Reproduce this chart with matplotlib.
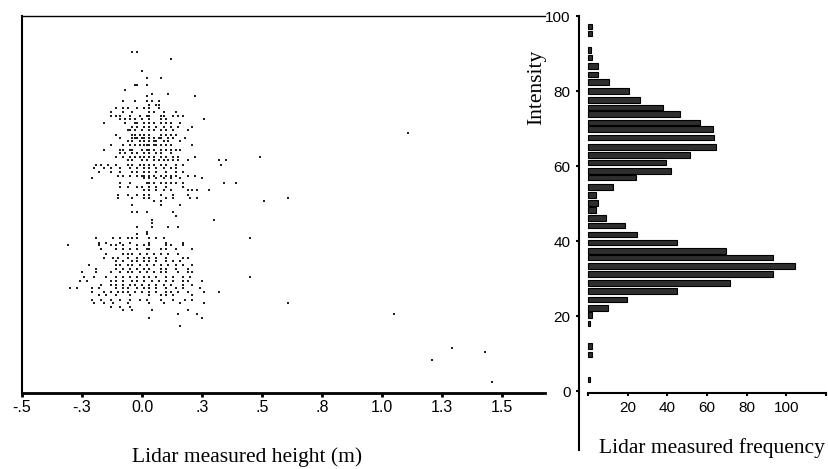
import numpy as np
import matplotlib
matplotlib.use('Agg')
from matplotlib import pyplot as plt

# scatter rows: intensity value and the heights (m) of the points in that row
row_intensity = [90.5, 88.6, 85.3, 83.4, 81.6, 80.4, 79.3, 78.6, 77.3, 76.4, 75.6, 74.5,
                 73.3, 72.6, 71.6, 70.4, 69.6, 68.4, 67.4, 66.7, 65.6, 64.4, 63.6, 62.5,
                 61.5, 60.3, 59.6, 58.4, 57.3, 56.7, 55.6, 54.4, 53.5, 52.4, 51.4, 50.7,
                 49.5, 47.7, 46.7, 45.6, 44.9, 43.8, 42.5, 41.8, 40.7, 39.6, 38.9, 37.8,
                 36.6, 35.4, 34.7, 33.6, 32.6, 31.7, 30.5, 29.3, 28.3, 27.6, 26.5, 25.6,
                 24.4, 23.4, 22.4, 21.5, 20.5, 19.6, 17.3]
row_heights = [
    [-0.04, -0.02],
    [0.12],
    [0.00],
    [0.02, 0.08],
    [-0.03, -0.02, 0.02],
    [-0.07],
    [0.04, 0.11],
    [0.02, 0.22],
    [-0.08, -0.03, 0.02, 0.04, 0.07],
    [0.03, 0.06, 0.07],
    [-0.11, -0.08, -0.06, -0.02, 0.01, 0.03, 0.07],
    [-0.13, -0.08, -0.04, 0.03, 0.05, 0.09, 0.14],
    [-0.13, -0.11, -0.09, -0.05, -0.01, 0.02, 0.03, 0.08, 0.09, 0.13, 0.15, 0.17],
    [-0.09, -0.07, -0.05, -0.03, 0.00, 0.03, 0.08, 0.10, 0.26],
    [-0.16, -0.07, -0.03, -0.02, 0.01, 0.03, 0.05, 0.08, 0.10, 0.12, 0.16],
    [-0.04, -0.02, 0.01, 0.03, 0.06, 0.09, 0.12, 0.15, 0.21],
    [-0.06, -0.05, -0.03, 0.00, 0.03, 0.05, 0.08, 0.10, 0.13, 0.19],
    [-0.11, -0.04, -0.03, -0.01, 0.01, 0.03, 0.08, 0.10, 0.12, 0.14],
    [-0.09, -0.04, -0.03, -0.02, 0.00, 0.01, 0.03, 0.05, 0.07, 0.08, 0.11, 0.13, 0.18],
    [-0.06, -0.04, -0.01, 0.01, 0.03, 0.05, 0.06, 0.09, 0.11, 0.16],
    [-0.13, -0.08, -0.05, -0.03, -0.01, 0.01, 0.02, 0.03, 0.05, 0.06, 0.08, 0.10, 0.12, 0.21],
    [-0.16, -0.09, -0.08, -0.05, -0.04, 0.00, 0.02, 0.03, 0.05, 0.08, 0.10, 0.12, 0.14, 0.16],
    [-0.09, -0.07, -0.04, -0.02, 0.01, 0.03, 0.06, 0.08, 0.12],
    [-0.11, -0.08, -0.05, -0.03, -0.01, 0.01, 0.03, 0.05, 0.08, 0.10, 0.13, 0.15, 0.22, 0.49],
    [-0.06, -0.04, 0.00, 0.02, 0.05, 0.07, 0.09, 0.11, 0.13, 0.15, 0.19, 0.32, 0.35],
    [-0.19, -0.17, -0.14, -0.11, -0.06, -0.04, -0.01, 0.01, 0.03, 0.05, 0.08, 0.10, 0.14, 0.17, 0.33],
    [-0.20, -0.16, -0.13, -0.09, -0.05, -0.02, 0.01, 0.03, 0.06, 0.09, 0.12, 0.14],
    [-0.18, -0.13, -0.09, -0.04, -0.02, 0.01, 0.03, 0.06, 0.10, 0.14, 0.17],
    [-0.10, -0.08, -0.05, -0.02, 0.00, 0.01, 0.03, 0.05, 0.08, 0.10, 0.12, 0.14, 0.19, 0.22],
    [-0.21, 0.01, 0.03, 0.06, 0.09, 0.12, 0.16, 0.25],
    [-0.09, -0.05, 0.02, 0.03, 0.05, 0.08, 0.10, 0.12, 0.14, 0.17, 0.34, 0.39],
    [-0.09, -0.06, -0.02, 0.00, 0.03, 0.06, 0.10, 0.17],
    [0.01, 0.03, 0.06, 0.09, 0.12, 0.19, 0.21, 0.23, 0.28],
    [-0.10, -0.06, -0.02, 0.01, 0.03, 0.08, 0.13, 0.19],
    [-0.10, -0.04, 0.01, 0.03, 0.10, 0.13, 0.20, 0.23, 0.61],
    [0.05, 0.08, 0.51],
    [-0.04, 0.08, 0.16],
    [-0.04, -0.02, 0.02, 0.13],
    [0.14],
    [0.04, 0.30],
    [0.04],
    [-0.02, 0.04, 0.11, 0.15],
    [0.02],
    [-0.02, 0.02],
    [-0.19, -0.12, -0.09, -0.06, -0.04, -0.02, 0.03, 0.06, 0.09, 0.45],
    [-0.18, -0.15, -0.09, -0.05, 0.03, 0.10, 0.17],
    [-0.31, -0.18, -0.13, -0.11, -0.08, -0.02, 0.01, 0.03, 0.10, 0.12, 0.17],
    [-0.17, -0.11, -0.08, -0.05, -0.02, 0.02, 0.03, 0.08, 0.10, 0.14, 0.21],
    [-0.15, -0.08, -0.06, -0.04, -0.01, 0.02, 0.05, 0.08, 0.11, 0.15],
    [-0.16, -0.12, -0.10, -0.06, -0.02, 0.01, 0.03, 0.06, 0.10, 0.17, 0.19],
    [-0.11, -0.08, -0.04, -0.02, 0.01, 0.03, 0.06, 0.10, 0.13, 0.16],
    [-0.22, -0.11, -0.09, -0.06, -0.04, -0.01, 0.02, 0.05, 0.08, 0.11, 0.14, 0.17, 0.21],
    [-0.19, -0.11, -0.08, -0.05, -0.02, 0.01, 0.03, 0.08, 0.10, 0.14, 0.19],
    [-0.25, -0.19, -0.13, -0.09, -0.06, -0.04, -0.01, 0.02, 0.05, 0.08, 0.10, 0.15, 0.19, 0.21],
    [-0.24, -0.20, -0.15, -0.11, -0.08, -0.05, -0.02, 0.01, 0.03, 0.06, 0.10, 0.13, 0.17, 0.20, 0.45],
    [-0.26, -0.23, -0.13, -0.11, -0.08, -0.04, -0.02, 0.01, 0.04, 0.07, 0.10, 0.13, 0.17, 0.19, 0.25],
    [-0.17, -0.13, -0.11, -0.08, -0.05, -0.03, 0.00, 0.03, 0.06, 0.09, 0.12, 0.17, 0.21],
    [-0.30, -0.27, -0.21, -0.18, -0.11, -0.08, -0.06, -0.02, 0.01, 0.03, 0.06, 0.10, 0.14, 0.17, 0.24],
    [-0.21, -0.16, -0.13, -0.10, -0.08, -0.06, -0.03, 0.00, 0.03, 0.06, 0.10, 0.12, 0.15, 0.19, 0.26, 0.32],
    [-0.18, -0.15, -0.11, -0.05, 0.03, 0.08, 0.10, 0.13, 0.21],
    [-0.21, -0.17, -0.13, -0.09, -0.05, -0.01, 0.02, 0.08, 0.13, 0.18, 0.21],
    [-0.20, -0.16, -0.12, -0.06, 0.03, 0.09, 0.16, 0.26, 0.61],
    [-0.13, -0.09, -0.05],
    [-0.08, -0.04, 0.04, 0.19],
    [0.15, 0.23],
    [0.03, 0.25],
    [0.16],
]
# isolated points far to the right
outlier_height = [1.11, 1.05, 1.29, 1.21, 1.43, 1.46]
outlier_intensity = [68.7, 20.6, 11.6, 8.4, 10.5, 2.4]

# histogram of intensity (right panel)
bin_intensity = [97.2, 95.3, 90.9, 88.9, 86.7, 84.4, 82.4, 80.0, 77.6, 75.6, 73.8, 71.6,
                 69.8, 67.6, 65.1, 62.9, 60.9, 58.7, 56.9, 54.4, 52.3, 50.2, 48.3, 46.2,
                 44.2, 41.8, 39.6, 37.3, 35.6, 33.3, 31.3, 28.9, 26.7, 24.4, 22.2, 20.3,
                 18.0, 12.0, 9.8, 3.1]
bin_count = [2, 2, 1.5, 2, 5, 5, 10.6, 20.8, 26, 37.9, 46.3, 56.4,
             63, 63.5, 64.8, 51.7, 39.6, 41.8, 24.2, 12.8, 3.9, 5.2, 3.9, 9,
             18.6, 24.5, 44.7, 69.8, 93.4, 104.3, 93.4, 71.5, 44.7, 19.5, 10.3, 2,
             1, 2, 2, 1]

height_ticks = [-0.5, -0.25, 0.0, 0.25, 0.5, 0.75, 1.0, 1.25, 1.5]
height_labels = ['-.5', '-.3', '0.0', '.3', '.5', '.8', '1.0', '1.3', '1.5']
freq_ticks = [0, 20, 40, 60, 80, 100, 120]
freq_labels = ['', '20', '40', '60', '80', '100', '']
int_ticks = [0, 20, 40, 60, 80, 100]

xs, ys = [], []
for level, hs in zip(row_intensity, row_heights):
    xs.extend(hs)
    ys.extend([level] * len(hs))
xs.extend(outlier_height)
ys.extend(outlier_intensity)

W, H = 829, 469
fig = plt.figure(figsize=(W / 100, H / 100), dpi=100)
sans = 'Liberation Sans'
serif = 'Liberation Serif'

# left panel: scatter
ax = fig.add_axes([22 / W, 1 - 393 / H, (545 - 22) / W, (393 - 16) / H])
ax.scatter(xs, ys, s=1.8, marker='s', c='#202020', linewidths=0)
ax.set_xlim(-0.5, 1.679)
ax.set_ylim(-0.5, 100)
ax.set_xticks(height_ticks)
ax.set_xticklabels(height_labels, fontfamily=sans, fontsize=11.5)
ax.set_yticks([])
ax.tick_params(axis='x', direction='out', length=3, width=2, pad=2)
ax.spines['right'].set_visible(False)
ax.spines['left'].set_linewidth(1.5)
ax.spines['bottom'].set_linewidth(2)
ax.spines['top'].set_linewidth(1)

# right panel: horizontal histogram
axh = fig.add_axes([579 / W, 1 - 393 / H, (826 - 579) / W, (393 - 16) / H])
axh.barh(bin_intensity, bin_count, height=1.5, color='#2e2e2e',
         edgecolor='black', linewidth=0.8)
axh.set_xlim(-4.5, 120)
axh.set_ylim(-0.5, 100)
axh.set_xticks(freq_ticks)
axh.set_xticklabels(freq_labels, fontfamily=sans, fontsize=11)
axh.set_yticks(int_ticks)
axh.set_yticklabels([str(v) for v in int_ticks], fontfamily=sans, fontsize=11)
axh.tick_params(axis='both', direction='out', length=2, width=1.5, pad=4)
for side in ['top', 'right', 'left']:
    axh.spines[side].set_visible(False)
axh.spines['bottom'].set_bounds(0, 120)
axh.spines['bottom'].set_linewidth(1.5)
axh.plot([0, 0], [-0.15, 1.0], transform=axh.transAxes, color='black',
         lw=1.5, clip_on=False)

fig.text(247 / W, 1 - 457 / H, 'Lidar measured height (m)', family=serif,
         fontsize=15.5, ha='center', va='center')
fig.text(537 / W, 1 - 87 / H, 'Intensity', family=serif, fontsize=15.5,
         rotation=90, ha='center', va='center')
fig.text(712 / W, 1 - 448 / H, 'Lidar measured frequency', family=serif,
         fontsize=15.5, ha='center', va='center')

fig.savefig('out.png', dpi=100)
